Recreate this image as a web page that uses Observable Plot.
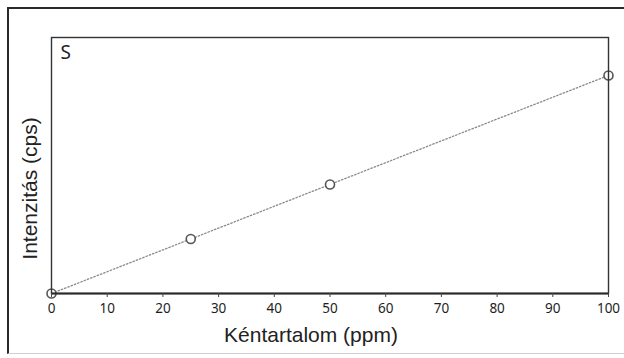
<!DOCTYPE html>
<html>
<head>
<meta charset="utf-8">
<script src="https://cdn.jsdelivr.net/npm/d3@7"></script>
<script src="https://cdn.jsdelivr.net/npm/@observablehq/plot@0.6"></script>
<style>
  html, body { margin: 0; padding: 0; background: #fff; overflow: hidden; }
  #wrap { position: relative; width: 624px; height: 358px; }
  #outer { position: absolute; left: 7px; top: 7px; width: 640px; height: 344px;
           border-left: 2px solid #2a2a2a; border-top: 2px solid #2a2a2a; border-bottom: 1px solid #d0d0d0; }
  #chart { position: absolute; left: 0; top: 0; }
</style>
</head>
<body>
<div id="wrap"><div id="outer"></div><div id="chart"></div></div>
<script>
// Data (intensity in relative units; no y-axis labels)
const concentration = [0, 25, 50, 100];
const intensity = [0, 25, 50, 100];
const xTicks = [0, 10, 20, 30, 40, 50, 60, 70, 80, 90, 100];
const panelLabel = "S";
const xLabel = "Kéntartalom (ppm)";
const yLabel = "Intenzitás (cps)";

const points = concentration.map((c, i) => ({c, v: intensity[i]}));
const fitLine = [points[0], points[points.length - 1]];

const chart = Plot.plot({
  width: 624,
  height: 358,
  marginLeft: 51,
  marginRight: 16,
  marginTop: 37,
  marginBottom: 65,
  style: {background: "transparent", overflow: "visible"},
  x: {domain: [0, 100]},
  y: {domain: [0, 117.4], axis: null},
  marks: [
    Plot.line(fitLine, {x: "c", y: "v", stroke: "#8a8a8a", strokeWidth: 1.3, strokeDasharray: "1.5,2"}),
    Plot.dot(points, {x: "c", y: "v", r: 4.5, stroke: "#555", strokeWidth: 1.6, fill: "white"}),
    Plot.frame({stroke: "#333", strokeWidth: 1.4}),
    Plot.ruleY([0], {stroke: "#2a2a2a", strokeWidth: 2}),
    Plot.axisX({ticks: xTicks, tickSize: 4, tickPadding: 6, tickFormat: d => String(d),
                label: null, fontSize: 13.5, fontFamily: "Noto Sans", fill: "#1e1e1e", stroke: "#444"}),
    Plot.text([panelLabel], {frameAnchor: "top-left", dx: 9, dy: 8, fontSize: 19, fontFamily: "Noto Sans", fill: "#222", textAnchor: "start", lineAnchor: "top"}),
    Plot.text([xLabel], {frameAnchor: "bottom", dx: -19, dy: 48, fontSize: 21, fontFamily: "Liberation Sans", fill: "#222"}),
    Plot.text([yLabel], {frameAnchor: "left", textAnchor: "middle", rotate: -90, dx: -21, dy: 23, fontSize: 21, fontFamily: "Liberation Sans", fill: "#222"})
  ]
});
document.getElementById("chart").appendChild(chart);
</script>
</body>
</html>
